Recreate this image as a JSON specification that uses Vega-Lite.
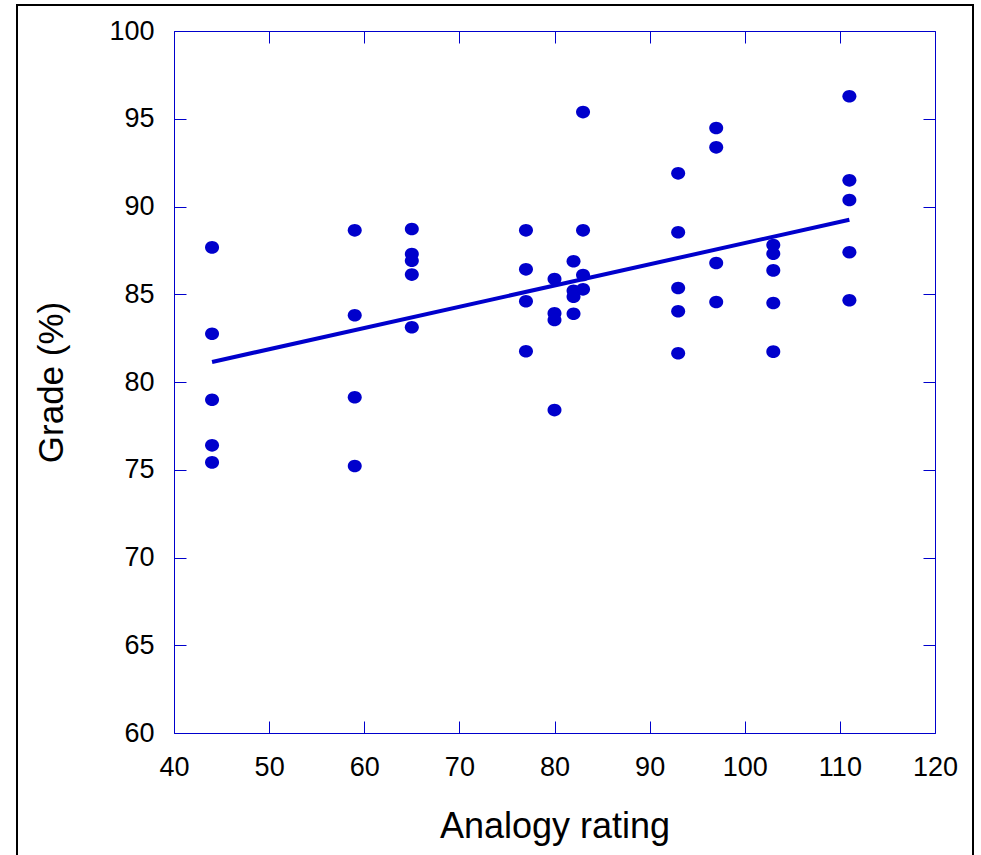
{
  "$schema": "https://vega.github.io/schema/vega-lite/v6.json",
  "width": 956,
  "height": 870,
  "autosize": {"type": "none"},
  "padding": {"left": 17, "top": 5, "right": 8, "bottom": -20},
  "background": "white",
  "config": {
    "view": {"stroke": "#000000", "strokeWidth": 2},
    "font": "Liberation Sans",
    "axis": {
      "domainColor": "#0000CC",
      "domainWidth": 1,
      "tickColor": "#0000CC",
      "tickWidth": 1,
      "tickSize": -12,
      "grid": false,
      "labelColor": "#000000",
      "labelFont": "Liberation Sans",
      "labelFontSize": 27,
      "titleFont": "Liberation Sans",
      "titleFontSize": 35,
      "titleFontWeight": "normal",
      "titleColor": "#000000",
      "labelFlush": false,
      "labelOverlap": false
    }
  },
  "data": {
    "values": [
      {"rating": 44, "grade": 87.67}, {"rating": 44, "grade": 82.75}, {"rating": 44, "grade": 78.99}, {"rating": 44, "grade": 76.39}, {"rating": 44, "grade": 75.42},
      {"rating": 59, "grade": 88.64}, {"rating": 59, "grade": 83.8}, {"rating": 59, "grade": 79.13}, {"rating": 59, "grade": 75.21},
      {"rating": 65, "grade": 88.72}, {"rating": 65, "grade": 87.29}, {"rating": 65, "grade": 86.91}, {"rating": 65, "grade": 86.12}, {"rating": 65, "grade": 83.12},
      {"rating": 77, "grade": 88.64}, {"rating": 77, "grade": 86.42}, {"rating": 77, "grade": 84.6}, {"rating": 77, "grade": 81.75},
      {"rating": 80, "grade": 85.87}, {"rating": 80, "grade": 83.91}, {"rating": 80, "grade": 83.53}, {"rating": 80, "grade": 78.4},
      {"rating": 82, "grade": 86.88}, {"rating": 82, "grade": 85.2}, {"rating": 82, "grade": 84.86}, {"rating": 82, "grade": 83.89},
      {"rating": 83, "grade": 95.38}, {"rating": 83, "grade": 88.64}, {"rating": 83, "grade": 86.1}, {"rating": 83, "grade": 85.28},
      {"rating": 93, "grade": 91.89}, {"rating": 93, "grade": 88.53}, {"rating": 93, "grade": 85.36}, {"rating": 93, "grade": 84.03}, {"rating": 93, "grade": 81.64},
      {"rating": 97, "grade": 94.47}, {"rating": 97, "grade": 93.37}, {"rating": 97, "grade": 86.78}, {"rating": 97, "grade": 84.56},
      {"rating": 103, "grade": 87.81}, {"rating": 103, "grade": 87.31}, {"rating": 103, "grade": 86.36}, {"rating": 103, "grade": 84.5}, {"rating": 103, "grade": 81.73},
      {"rating": 111, "grade": 96.28}, {"rating": 111, "grade": 91.49}, {"rating": 111, "grade": 90.37}, {"rating": 111, "grade": 87.39}, {"rating": 111, "grade": 84.66}
    ]
  },
  "resolve": {"axis": {"x": "independent", "y": "independent"}},
  "layer": [
    {
      "mark": {"type": "point", "filled": true, "shape": "M -1 0 A 1 0.9 0 1 1 1 0 A 1 0.9 0 1 1 -1 0 Z", "size": 196, "color": "#0000CC", "opacity": 1, "strokeWidth": 0},
      "encoding": {
        "x": {
          "field": "rating", "type": "quantitative",
          "scale": {"domain": [40, 120], "range": [157, 918], "nice": false, "zero": false},
          "axis": {"orient": "bottom", "offset": -142, "values": [40, 50, 60, 70, 80, 90, 100, 110, 120], "labelPadding": 33, "title": "Analogy rating", "titleFontSize": 36, "titlePadding": 29}
        },
        "y": {
          "field": "grade", "type": "quantitative",
          "scale": {"domain": [60, 100], "range": [728, 26], "nice": false, "zero": false},
          "axis": {"orient": "left", "offset": -157, "values": [60, 65, 70, 75, 80, 85, 90, 95, 100], "labelPadding": 32, "title": "Grade (%)", "titlePadding": 39}
        }
      }
    },
    {
      "transform": [{"regression": "grade", "on": "rating"}],
      "mark": {"type": "line", "color": "#0000CC", "strokeWidth": 4},
      "encoding": {
        "x": {
          "field": "rating", "type": "quantitative",
          "axis": {"orient": "top", "offset": -26, "values": [40, 50, 60, 70, 80, 90, 100, 110, 120], "labels": false, "title": null}
        },
        "y": {
          "field": "grade", "type": "quantitative",
          "axis": {"orient": "right", "offset": -38, "values": [60, 65, 70, 75, 80, 85, 90, 95, 100], "labels": false, "title": null}
        }
      }
    }
  ]
}
